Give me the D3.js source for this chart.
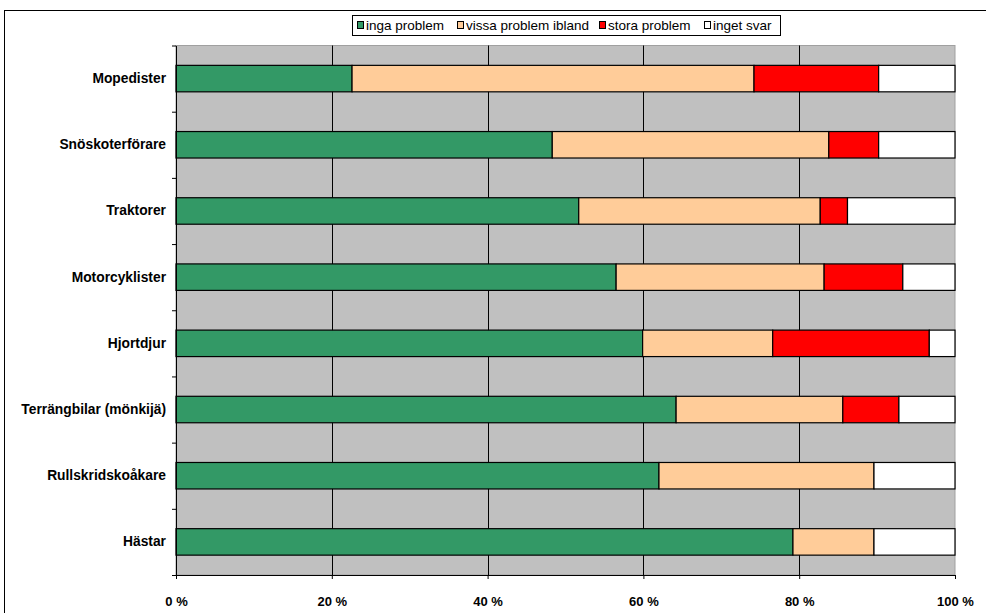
<!DOCTYPE html>
<html>
<head>
<meta charset="utf-8">
<script src="https://cdn.jsdelivr.net/npm/d3@7"></script>
<style>
  body { margin: 0; background: #fff; }
  svg text { font-family: "Liberation Sans", Arial, sans-serif; }
</style>
</head>
<body>
<div id="chart"></div>
<script>
const categories = ["Mopedister", "Snöskoterförare", "Traktorer", "Motorcyklister",
  "Hjortdjur", "Terrängbilar (mönkijä)", "Rullskridskoåkare", "Hästar"];
const ingaProblem = [22.6, 48.3, 51.7, 56.5, 59.9, 64.2, 62.0, 79.2];
const vissaProblem = [51.6, 35.5, 31.0, 26.7, 16.7, 21.4, 27.6, 10.4];
const storaProblem = [16.0, 6.4, 3.5, 10.1, 20.1, 7.2, 0, 0];
const ingetSvar = [9.8, 9.8, 13.8, 6.7, 3.3, 7.2, 10.4, 10.4];
const seriesNames = ["inga problem", "vissa problem ibland", "stora problem", "inget svar"];
const xTicks = [0, 20, 40, 60, 80, 100];

const colors = ["#339966", "#FFCC99", "#FF0000", "#FFFFFF"];
const keys = ["inga", "vissa", "stora", "inget"];

const rows = categories.map((c, i) => ({
  cat: c, inga: ingaProblem[i], vissa: vissaProblem[i], stora: storaProblem[i], inget: ingetSvar[i]
}));

const W = 986, H = 613;
const plot = { left: 176, right: 955, top: 45.5, bottom: 575 };

const svg = d3.select("#chart").append("svg")
  .attr("width", W).attr("height", H);

// outer chart frame (runs off the right/bottom edge like the original)
svg.append("rect")
  .attr("x", 4.5).attr("y", 10.5)
  .attr("width", W + 10).attr("height", H + 10)
  .attr("fill", "none").attr("stroke", "#000").attr("stroke-width", 1);

const x = d3.scaleLinear().domain([0, 100]).range([plot.left, plot.right]);
const y = d3.scaleBand().domain(categories).range([plot.top, plot.bottom]).paddingInner(0.6).paddingOuter(0.3);
const yIdx = d3.scaleLinear().domain([0, categories.length]).range([plot.top, plot.bottom]);

// plot background
svg.append("rect")
  .attr("x", plot.left).attr("y", plot.top)
  .attr("width", plot.right - plot.left).attr("height", plot.bottom - plot.top)
  .attr("fill", "#C0C0C0").attr("stroke", "#A0A0A0").attr("stroke-width", 1);

// vertical gridlines
svg.append("g").selectAll("line")
  .data(xTicks.slice(1, -1))
  .enter().append("line")
  .attr("x1", d => Math.round(x(d)) + 0.5).attr("x2", d => Math.round(x(d)) + 0.5)
  .attr("y1", plot.top).attr("y2", plot.bottom)
  .attr("stroke", "#000").attr("stroke-width", 1);

// stacked bars
const stack = d3.stack().keys(keys)(rows);
svg.append("g").selectAll("g")
  .data(stack)
  .enter().append("g")
  .attr("fill", (d, i) => colors[i])
  .selectAll("rect")
  .data(d => d.filter(s => s[1] - s[0] > 0))
  .enter().append("rect")
  .attr("x", d => x(d[0]))
  .attr("y", d => y(d.data.cat))
  .attr("width", d => x(d[1]) - x(d[0]))
  .attr("height", y.bandwidth())
  .attr("stroke", "#000").attr("stroke-width", 1.2);

// left axis: ticks at band boundaries, labels centred on bars
svg.append("g")
  .attr("transform", "translate(" + plot.left + ",0)")
  .call(d3.axisLeft(yIdx).tickValues(d3.range(0, categories.length + 1)).tickFormat("").tickSize(4).tickSizeOuter(0))
  .call(g => g.selectAll("line, path").attr("stroke", "#000"));

svg.append("g")
  .attr("transform", "translate(" + plot.left + ",0)")
  .call(d3.axisLeft(y).tickSize(0).tickPadding(10))
  .call(g => g.select(".domain").remove())
  .selectAll("text")
  .style("font-size", "13.8px").style("font-weight", "bold")
  .style("font-family", "'Liberation Sans', Arial, sans-serif").attr("fill", "#000");

// bottom axis
svg.append("g")
  .attr("transform", "translate(0," + plot.bottom + ")")
  .call(d3.axisBottom(x).tickValues(xTicks).tickFormat(d => d + " %").tickSize(4).tickSizeOuter(0).tickPadding(18))
  .call(g => g.selectAll("line, path").attr("stroke", "#000"))
  .selectAll("text")
  .style("font-size", "13px").style("font-weight", "bold")
  .style("font-family", "'Liberation Sans', Arial, sans-serif").attr("fill", "#000");

// legend
const legend = svg.append("g");
legend.append("rect")
  .attr("x", 352.5).attr("y", 15.5).attr("width", 428).attr("height", 20)
  .attr("fill", "#fff").attr("stroke", "#000");
const legendX = [357, 457, 599, 704];
seriesNames.forEach((name, i) => {
  legend.append("rect")
    .attr("x", legendX[i] + 0.5).attr("y", 21.5).attr("width", 6).attr("height", 7)
    .attr("fill", colors[i]).attr("stroke", "#000");
  legend.append("text")
    .attr("x", legendX[i] + 9).attr("y", 30)
    .style("font-size", "13.5px")
    .text(name);
});
</script>
</body>
</html>
